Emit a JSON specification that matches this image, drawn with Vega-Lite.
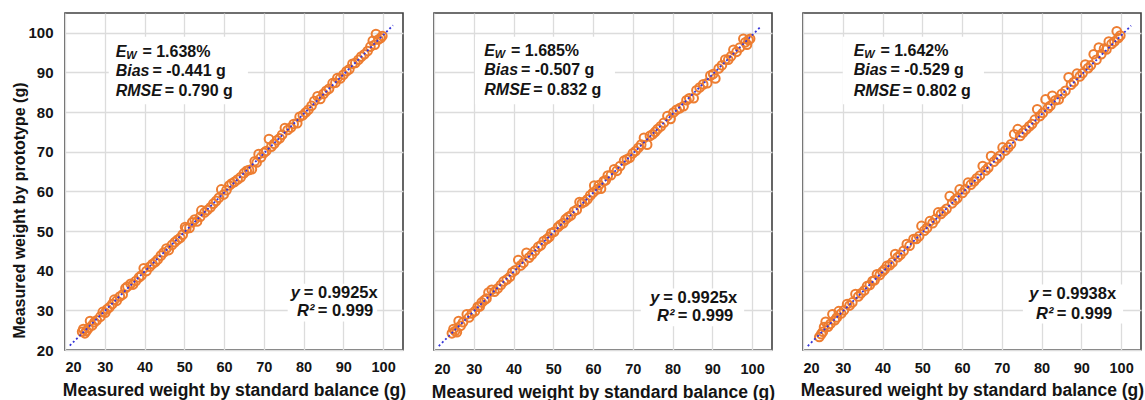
{
"$schema": "https://vega.github.io/schema/vega-lite/v6.json",
"background": "white",
"padding": {"left": 10, "top": 12, "right": 0, "bottom": 0},
"spacing": 31,
"bounds": "flush",
"config": {
 "font": "Liberation Sans",
 "view": {"stroke": "#404040", "strokeWidth": 1.6},
 "axis": {"grid": true, "gridColor": "#dcdcdc", "gridWidth": 1.3, "domain": false, "ticks": false, "labelFont": "Liberation Sans", "titleFont": "Liberation Sans", "labelFontWeight": "bold", "titleFontWeight": "bold", "labelColor": "#141414", "titleColor": "#141414"},
 "text": {"font": "Liberation Sans", "fontWeight": "bold", "fontSize": 16, "color": "#141414", "align": "left", "baseline": "middle"}
},
"datasets": {
 "p1": [
 {"x":24.3,"y":24.6},{"x":24.6,"y":25.3},{"x":25.0,"y":24.2},{"x":25.4,"y":24.8},{"x":25.9,"y":25.5},{"x":26.3,"y":27.3},{"x":26.8,"y":26.2},{"x":27.4,"y":27.0},{"x":28.0,"y":27.5},{"x":28.9,"y":28.4},{"x":29.5,"y":29.6},{"x":30.1,"y":29.4},{"x":30.6,"y":30.3},{"x":31.2,"y":30.8},{"x":31.9,"y":31.6},{"x":32.4,"y":32.7},{"x":33.0,"y":32.4},{"x":33.8,"y":33.5},{"x":34.5,"y":34.0},{"x":35.2,"y":35.6},{"x":35.7,"y":36.0},{"x":36.5,"y":36.7},{"x":37.1,"y":36.5},{"x":37.8,"y":37.4},{"x":38.6,"y":38.3},{"x":39.2,"y":38.8},{"x":39.8,"y":40.6},{"x":40.5,"y":39.9},{"x":41.3,"y":41.0},{"x":42.0,"y":41.7},{"x":42.7,"y":42.2},{"x":43.3,"y":42.8},{"x":44.1,"y":43.8},{"x":44.8,"y":44.6},{"x":45.5,"y":45.6},{"x":46.1,"y":45.2},{"x":46.9,"y":46.5},{"x":47.6,"y":47.2},{"x":48.3,"y":47.8},{"x":49.0,"y":48.3},{"x":49.6,"y":49.1},{"x":50.2,"y":51.0},{"x":50.5,"y":50.6},{"x":51.3,"y":50.8},{"x":52.0,"y":52.2},{"x":52.6,"y":52.9},{"x":53.2,"y":52.4},{"x":54.0,"y":53.6},{"x":54.3,"y":55.2},{"x":55.1,"y":54.7},{"x":55.8,"y":55.3},{"x":56.6,"y":56.0},{"x":57.3,"y":56.9},{"x":58.0,"y":57.6},{"x":58.7,"y":58.4},{"x":59.3,"y":60.5},{"x":59.9,"y":59.2},{"x":60.6,"y":60.3},{"x":61.3,"y":61.5},{"x":61.9,"y":62.0},{"x":62.6,"y":62.4},{"x":63.4,"y":63.0},{"x":64.2,"y":63.6},{"x":65.0,"y":64.6},{"x":65.7,"y":65.2},{"x":66.3,"y":65.4},{"x":67.0,"y":65.6},{"x":67.7,"y":67.6},{"x":68.2,"y":67.3},{"x":68.7,"y":69.4},{"x":69.3,"y":68.6},{"x":70.0,"y":69.7},{"x":70.6,"y":70.2},{"x":71.3,"y":73.2},{"x":71.9,"y":71.3},{"x":72.6,"y":72.0},{"x":73.3,"y":72.9},{"x":74.0,"y":73.4},{"x":74.6,"y":74.3},{"x":75.3,"y":76.0},{"x":76.0,"y":75.5},{"x":76.8,"y":76.1},{"x":77.5,"y":77.0},{"x":78.4,"y":77.2},{"x":79.0,"y":78.8},{"x":79.8,"y":79.2},{"x":80.5,"y":79.9},{"x":81.2,"y":80.6},{"x":82.0,"y":81.6},{"x":82.7,"y":82.8},{"x":83.5,"y":84.0},{"x":84.2,"y":83.3},{"x":85.0,"y":84.6},{"x":85.7,"y":85.4},{"x":86.4,"y":85.9},{"x":87.3,"y":87.3},{"x":88.0,"y":87.4},{"x":88.5,"y":88.6},{"x":89.2,"y":88.5},{"x":90.0,"y":89.4},{"x":90.8,"y":90.3},{"x":91.5,"y":90.8},{"x":92.3,"y":92.2},{"x":93.0,"y":92.4},{"x":93.8,"y":93.2},{"x":94.5,"y":94.0},{"x":95.3,"y":94.6},{"x":96.1,"y":95.4},{"x":96.8,"y":96.5},{"x":97.4,"y":98.0},{"x":97.9,"y":97.0},{"x":98.2,"y":99.7},{"x":98.8,"y":98.3},{"x":99.4,"y":98.7},{"x":99.8,"y":99.2}
 ],
 "p2": [
 {"x":24.5,"y":24.2},{"x":24.9,"y":25.3},{"x":25.3,"y":24.8},{"x":25.75,"y":24.5},{"x":26.2,"y":27.3},{"x":26.7,"y":26.1},{"x":27.3,"y":27.0},{"x":28.25,"y":29.0},{"x":28.8,"y":28.2},{"x":29.5,"y":29.2},{"x":30.3,"y":29.8},{"x":31.0,"y":30.9},{"x":31.5,"y":31.0},{"x":32.0,"y":32.0},{"x":32.7,"y":32.6},{"x":33.2,"y":33.0},{"x":33.7,"y":34.5},{"x":34.5,"y":35.2},{"x":35.2,"y":34.7},{"x":36.0,"y":35.5},{"x":36.8,"y":36.4},{"x":37.5,"y":37.3},{"x":38.3,"y":37.8},{"x":39.1,"y":38.5},{"x":39.7,"y":39.6},{"x":40.4,"y":40.1},{"x":41.2,"y":42.7},{"x":41.8,"y":41.3},{"x":42.5,"y":42.0},{"x":43.25,"y":44.5},{"x":43.9,"y":43.3},{"x":44.6,"y":44.0},{"x":45.4,"y":45.0},{"x":46.2,"y":46.0},{"x":46.9,"y":46.4},{"x":47.6,"y":47.5},{"x":48.4,"y":48.0},{"x":49.0,"y":48.5},{"x":49.5,"y":49.5},{"x":50.2,"y":49.8},{"x":51.2,"y":51.0},{"x":51.8,"y":51.6},{"x":52.5,"y":52.0},{"x":53.1,"y":53.0},{"x":53.7,"y":53.5},{"x":54.4,"y":53.9},{"x":55.2,"y":55.0},{"x":55.9,"y":55.4},{"x":56.6,"y":57.3},{"x":57.2,"y":57.0},{"x":57.9,"y":57.4},{"x":58.6,"y":58.0},{"x":59.3,"y":59.0},{"x":60.0,"y":59.7},{"x":60.3,"y":61.5},{"x":61.0,"y":60.5},{"x":61.5,"y":61.6},{"x":62.0,"y":60.7},{"x":62.7,"y":62.6},{"x":63.2,"y":62.8},{"x":63.7,"y":64.0},{"x":64.5,"y":64.1},{"x":65.3,"y":65.6},{"x":66.0,"y":65.2},{"x":66.8,"y":66.4},{"x":67.8,"y":67.75},{"x":68.5,"y":68.1},{"x":69.2,"y":68.5},{"x":70.0,"y":69.6},{"x":70.7,"y":70.2},{"x":71.4,"y":71.0},{"x":72.1,"y":71.8},{"x":72.8,"y":73.5},{"x":73.6,"y":71.8},{"x":74.3,"y":74.0},{"x":75.0,"y":74.4},{"x":75.6,"y":75.0},{"x":76.2,"y":75.7},{"x":77.0,"y":76.4},{"x":77.8,"y":77.3},{"x":78.7,"y":79.0},{"x":79.5,"y":78.3},{"x":80.2,"y":79.9},{"x":81.0,"y":80.6},{"x":81.8,"y":81.0},{"x":82.75,"y":81.5},{"x":83.5,"y":83.0},{"x":84.2,"y":83.5},{"x":85.3,"y":83.5},{"x":86.0,"y":85.5},{"x":86.8,"y":86.2},{"x":87.7,"y":87.0},{"x":88.7,"y":87.3},{"x":89.5,"y":89.2},{"x":90.2,"y":89.6},{"x":90.75,"y":88.5},{"x":91.6,"y":91.0},{"x":92.4,"y":91.8},{"x":93.25,"y":93.25},{"x":94.0,"y":93.2},{"x":94.7,"y":94.1},{"x":95.3,"y":95.7},{"x":96.1,"y":95.2},{"x":96.9,"y":96.3},{"x":97.8,"y":98.5},{"x":98.3,"y":97.6},{"x":98.7,"y":97.0},{"x":99.1,"y":98.2},{"x":99.5,"y":98.5}
 ],
 "p3": [
 {"x":24.1,"y":23.3},{"x":24.6,"y":24.0},{"x":25.0,"y":24.6},{"x":25.3,"y":25.8},{"x":25.7,"y":27.1},{"x":26.3,"y":25.9},{"x":26.9,"y":26.6},{"x":27.4,"y":29.0},{"x":28.0,"y":27.5},{"x":28.5,"y":28.2},{"x":29.0,"y":29.8},{"x":29.6,"y":29.2},{"x":30.3,"y":30.0},{"x":31.1,"y":31.6},{"x":31.7,"y":31.2},{"x":32.4,"y":32.0},{"x":33.2,"y":34.1},{"x":33.9,"y":33.5},{"x":34.6,"y":34.3},{"x":35.4,"y":35.0},{"x":36.1,"y":36.1},{"x":36.8,"y":36.4},{"x":37.5,"y":37.4},{"x":38.0,"y":37.6},{"x":38.6,"y":39.1},{"x":39.3,"y":38.9},{"x":40.0,"y":39.8},{"x":40.5,"y":40.3},{"x":41.1,"y":41.2},{"x":41.8,"y":41.4},{"x":42.5,"y":42.1},{"x":43.2,"y":44.2},{"x":43.8,"y":43.4},{"x":44.5,"y":44.0},{"x":45.3,"y":45.0},{"x":46.1,"y":46.7},{"x":46.8,"y":46.3},{"x":47.8,"y":48.0},{"x":48.5,"y":48.0},{"x":49.2,"y":48.7},{"x":49.8,"y":51.3},{"x":50.5,"y":50.1},{"x":51.2,"y":50.8},{"x":51.9,"y":52.5},{"x":52.6,"y":52.0},{"x":53.3,"y":53.0},{"x":54.0,"y":54.7},{"x":54.7,"y":54.3},{"x":55.4,"y":55.0},{"x":56.1,"y":55.6},{"x":56.9,"y":58.8},{"x":57.5,"y":57.0},{"x":58.2,"y":57.8},{"x":58.8,"y":58.3},{"x":59.4,"y":60.5},{"x":60.1,"y":59.6},{"x":60.8,"y":60.5},{"x":61.5,"y":62.2},{"x":62.2,"y":61.7},{"x":63.0,"y":62.5},{"x":63.7,"y":63.3},{"x":64.5,"y":64.0},{"x":65.2,"y":66.4},{"x":65.9,"y":65.3},{"x":66.6,"y":66.0},{"x":67.3,"y":68.9},{"x":68.0,"y":67.5},{"x":68.8,"y":68.3},{"x":69.5,"y":69.0},{"x":70.2,"y":71.1},{"x":70.9,"y":70.3},{"x":71.6,"y":71.1},{"x":72.3,"y":71.9},{"x":73.1,"y":74.4},{"x":74.0,"y":75.7},{"x":74.6,"y":74.0},{"x":75.3,"y":74.8},{"x":76.1,"y":75.6},{"x":76.9,"y":76.4},{"x":77.6,"y":77.0},{"x":78.3,"y":78.1},{"x":78.9,"y":80.7},{"x":79.6,"y":79.0},{"x":80.3,"y":79.8},{"x":81.0,"y":83.2},{"x":81.6,"y":81.0},{"x":82.2,"y":81.6},{"x":82.7,"y":84.1},{"x":83.5,"y":83.0},{"x":84.3,"y":83.2},{"x":85.1,"y":84.6},{"x":86.0,"y":85.4},{"x":86.8,"y":88.8},{"x":87.4,"y":86.9},{"x":88.1,"y":87.6},{"x":88.9,"y":89.7},{"x":89.6,"y":89.0},{"x":90.3,"y":89.8},{"x":91.0,"y":92.0},{"x":91.7,"y":91.1},{"x":92.4,"y":91.8},{"x":93.1,"y":94.6},{"x":93.8,"y":93.2},{"x":94.4,"y":96.3},{"x":95.0,"y":94.6},{"x":95.7,"y":96.0},{"x":96.3,"y":95.8},{"x":96.9,"y":97.8},{"x":97.6,"y":97.2},{"x":98.3,"y":97.8},{"x":98.9,"y":100.4},{"x":99.3,"y":98.7},{"x":99.8,"y":99.3}
 ]
},
"hconcat": [
 {
  "width": 338, "height": 337,
  "layer": [
   {"data": {"name": "p1"}, "mark": {"type": "point", "shape": "circle", "filled": false, "color": "#ED7D31", "strokeWidth": 2, "size": 75, "opacity": 0},
    "encoding": {
     "x": {"field": "x", "type": "quantitative", "scale": {"domain": [20, 105], "nice": false, "zero": false}, "axis": {"values": [20,30,40,50,60,70,80,90,100], "title": "Measured weight by standard balance (g)", "titleFontSize": 17.5, "labelFontSize": 14.5, "labelPadding": 10, "titlePadding": 8}},
     "y": {"field": "y", "type": "quantitative", "scale": {"domain": [20, 105], "nice": false, "zero": false}, "axis": {"values": [20,30,40,50,60,70,80,90,100], "title": "Measured weight by prototype (g)", "titleFontSize": 16, "labelFontSize": 15, "labelPadding": 12, "titleX": -38, "titleY": 197}}
    }},
   {"data": {"values": [{}]}, "mark": {"type": "rect", "fill": "white"}, "encoding": {"x": {"datum": 31}, "x2": {"datum": 66}, "y": {"datum": 82}, "y2": {"datum": 99}}},
   {"data": {"values": [{}]}, "mark": {"type": "rect", "fill": "white"}, "encoding": {"x": {"datum": 76}, "x2": {"datum": 98.5}, "y": {"datum": 27.2}, "y2": {"datum": 36.7}}},
   {"data": {"name": "p1"}, "mark": {"type": "point", "shape": "circle", "filled": false, "color": "#ED7D31", "strokeWidth": 2, "size": 75, "opacity": 1},
    "encoding": {"x": {"field": "x", "type": "quantitative"}, "y": {"field": "y", "type": "quantitative"}}},
   {"data": {"values": [{}]}, "mark": {"type": "rule", "color": "#3535d8", "strokeWidth": 1.8, "strokeDash": [2, 2.5]}, "encoding": {"x": {"datum": 21.2}, "y": {"datum": 21.1}, "x2": {"datum": 102.5}, "y2": {"datum": 101.9}}},
   {"data": {"values": [{}]}, "mark": {"type": "text", "text": "E", "fontStyle": "italic"}, "encoding": {"x": {"datum": 32.75}, "y": {"datum": 95.2}}},
   {"data": {"values": [{}]}, "mark": {"type": "text", "text": "W", "fontStyle": "italic", "fontSize": 11, "dx": 10.5, "dy": 4}, "encoding": {"x": {"datum": 32.75}, "y": {"datum": 95.2}}},
   {"data": {"values": [{}]}, "mark": {"type": "text", "text": "= 1.638%", "dx": 26.7}, "encoding": {"x": {"datum": 32.75}, "y": {"datum": 95.2}}},
   {"data": {"values": [{}]}, "mark": {"type": "text", "text": "Bias", "fontStyle": "italic"}, "encoding": {"x": {"datum": 32.75}, "y": {"datum": 90.45}}},
   {"data": {"values": [{}]}, "mark": {"type": "text", "text": "= -0.441 g", "dx": 36.7}, "encoding": {"x": {"datum": 32.75}, "y": {"datum": 90.45}}},
   {"data": {"values": [{}]}, "mark": {"type": "text", "text": "RMSE", "fontStyle": "italic"}, "encoding": {"x": {"datum": 32.75}, "y": {"datum": 85.4}}},
   {"data": {"values": [{}]}, "mark": {"type": "text", "text": "= 0.790 g", "dx": 49}, "encoding": {"x": {"datum": 32.75}, "y": {"datum": 85.4}}},
   {"data": {"values": [{}]}, "mark": {"type": "text", "text": "y", "fontStyle": "italic", "fontSize": 16.5}, "encoding": {"x": {"datum": 76.8}, "y": {"datum": 34.5}}},
   {"data": {"values": [{}]}, "mark": {"type": "text", "text": "= 0.9925x", "fontSize": 16.5, "dx": 13}, "encoding": {"x": {"datum": 76.8}, "y": {"datum": 34.5}}},
   {"data": {"values": [{}]}, "mark": {"type": "text", "text": "R²", "fontStyle": "italic", "fontSize": 16.5}, "encoding": {"x": {"datum": 78.35}, "y": {"datum": 29.85}}},
   {"data": {"values": [{}]}, "mark": {"type": "text", "text": "= 0.999", "fontSize": 16.5, "dx": 20.7}, "encoding": {"x": {"datum": 78.35}, "y": {"datum": 29.85}}}
  ]
 },
 {
  "width": 338, "height": 337,
  "layer": [
   {"data": {"name": "p2"}, "mark": {"type": "point", "shape": "circle", "filled": false, "color": "#ED7D31", "strokeWidth": 2, "size": 75, "opacity": 0},
    "encoding": {
     "x": {"field": "x", "type": "quantitative", "scale": {"domain": [20, 105], "nice": false, "zero": false}, "axis": {"values": [20,30,40,50,60,70,80,90,100], "title": "Measured weight by standard balance (g)", "titleFontSize": 17.5, "labelFontSize": 14.5, "labelPadding": 12, "titlePadding": 8}},
     "y": {"field": "y", "type": "quantitative", "scale": {"domain": [20, 105], "nice": false, "zero": false}, "axis": {"values": [20,30,40,50,60,70,80,90,100], "labels": false, "title": null}}
    }},
   {"data": {"values": [{}]}, "mark": {"type": "rect", "fill": "white"}, "encoding": {"x": {"datum": 30.3}, "x2": {"datum": 65.5}, "y": {"datum": 82}, "y2": {"datum": 99}}},
   {"data": {"values": [{}]}, "mark": {"type": "rect", "fill": "white"}, "encoding": {"x": {"datum": 72}, "x2": {"datum": 98}, "y": {"datum": 26}, "y2": {"datum": 35.5}}},
   {"data": {"name": "p2"}, "mark": {"type": "point", "shape": "circle", "filled": false, "color": "#ED7D31", "strokeWidth": 2, "size": 75, "opacity": 1},
    "encoding": {"x": {"field": "x", "type": "quantitative"}, "y": {"field": "y", "type": "quantitative"}}},
   {"data": {"values": [{}]}, "mark": {"type": "rule", "color": "#3535d8", "strokeWidth": 1.8, "strokeDash": [2, 2.5]}, "encoding": {"x": {"datum": 21.2}, "y": {"datum": 21.0}, "x2": {"datum": 102.3}, "y2": {"datum": 101.7}}},
   {"data": {"values": [{}]}, "mark": {"type": "text", "text": "E", "fontStyle": "italic"}, "encoding": {"x": {"datum": 32.65}, "y": {"datum": 95.3}}},
   {"data": {"values": [{}]}, "mark": {"type": "text", "text": "W", "fontStyle": "italic", "fontSize": 11, "dx": 10.5, "dy": 4}, "encoding": {"x": {"datum": 32.65}, "y": {"datum": 95.3}}},
   {"data": {"values": [{}]}, "mark": {"type": "text", "text": "= 1.685%", "dx": 26.7}, "encoding": {"x": {"datum": 32.65}, "y": {"datum": 95.3}}},
   {"data": {"values": [{}]}, "mark": {"type": "text", "text": "Bias", "fontStyle": "italic"}, "encoding": {"x": {"datum": 32.65}, "y": {"datum": 90.5}}},
   {"data": {"values": [{}]}, "mark": {"type": "text", "text": "= -0.507 g", "dx": 36.7}, "encoding": {"x": {"datum": 32.65}, "y": {"datum": 90.5}}},
   {"data": {"values": [{}]}, "mark": {"type": "text", "text": "RMSE", "fontStyle": "italic"}, "encoding": {"x": {"datum": 32.65}, "y": {"datum": 85.5}}},
   {"data": {"values": [{}]}, "mark": {"type": "text", "text": "= 0.832 g", "dx": 49}, "encoding": {"x": {"datum": 32.65}, "y": {"datum": 85.5}}},
   {"data": {"values": [{}]}, "mark": {"type": "text", "text": "y", "fontStyle": "italic", "fontSize": 16.5}, "encoding": {"x": {"datum": 74.4}, "y": {"datum": 33.2}}},
   {"data": {"values": [{}]}, "mark": {"type": "text", "text": "= 0.9925x", "fontSize": 16.5, "dx": 13}, "encoding": {"x": {"datum": 74.4}, "y": {"datum": 33.2}}},
   {"data": {"values": [{}]}, "mark": {"type": "text", "text": "R²", "fontStyle": "italic", "fontSize": 16.5}, "encoding": {"x": {"datum": 76.1}, "y": {"datum": 28.6}}},
   {"data": {"values": [{}]}, "mark": {"type": "text", "text": "= 0.999", "fontSize": 16.5, "dx": 20.7}, "encoding": {"x": {"datum": 76.1}, "y": {"datum": 28.6}}}
  ]
 },
 {
  "width": 338, "height": 337,
  "layer": [
   {"data": {"name": "p3"}, "mark": {"type": "point", "shape": "circle", "filled": false, "color": "#ED7D31", "strokeWidth": 2, "size": 75, "opacity": 0},
    "encoding": {
     "x": {"field": "x", "type": "quantitative", "scale": {"domain": [20, 105], "nice": false, "zero": false}, "axis": {"values": [20,30,40,50,60,70,80,90,100], "title": "Measured weight by standard balance (g)", "titleFontSize": 17.5, "labelFontSize": 14.5, "labelPadding": 11, "titlePadding": 7}},
     "y": {"field": "y", "type": "quantitative", "scale": {"domain": [20, 105], "nice": false, "zero": false}, "axis": {"values": [20,30,40,50,60,70,80,90,100], "labels": false, "title": null}}
    }},
   {"data": {"values": [{}]}, "mark": {"type": "rect", "fill": "white"}, "encoding": {"x": {"datum": 30}, "x2": {"datum": 65.5}, "y": {"datum": 82}, "y2": {"datum": 99}}},
   {"data": {"values": [{}]}, "mark": {"type": "rect", "fill": "white"}, "encoding": {"x": {"datum": 75.3}, "x2": {"datum": 100.5}, "y": {"datum": 26.7}, "y2": {"datum": 36.5}}},
   {"data": {"name": "p3"}, "mark": {"type": "point", "shape": "circle", "filled": false, "color": "#ED7D31", "strokeWidth": 2, "size": 75, "opacity": 1},
    "encoding": {"x": {"field": "x", "type": "quantitative"}, "y": {"field": "y", "type": "quantitative"}}},
   {"data": {"values": [{}]}, "mark": {"type": "rule", "color": "#3535d8", "strokeWidth": 1.8, "strokeDash": [2, 2.5]}, "encoding": {"x": {"datum": 21.2}, "y": {"datum": 21.0}, "x2": {"datum": 102.5}, "y2": {"datum": 101.8}}},
   {"data": {"values": [{}]}, "mark": {"type": "text", "text": "E", "fontStyle": "italic"}, "encoding": {"x": {"datum": 32.75}, "y": {"datum": 95.3}}},
   {"data": {"values": [{}]}, "mark": {"type": "text", "text": "W", "fontStyle": "italic", "fontSize": 11, "dx": 10.5, "dy": 4}, "encoding": {"x": {"datum": 32.75}, "y": {"datum": 95.3}}},
   {"data": {"values": [{}]}, "mark": {"type": "text", "text": "= 1.642%", "dx": 26.7}, "encoding": {"x": {"datum": 32.75}, "y": {"datum": 95.3}}},
   {"data": {"values": [{}]}, "mark": {"type": "text", "text": "Bias", "fontStyle": "italic"}, "encoding": {"x": {"datum": 32.75}, "y": {"datum": 90.5}}},
   {"data": {"values": [{}]}, "mark": {"type": "text", "text": "= -0.529 g", "dx": 36.7}, "encoding": {"x": {"datum": 32.75}, "y": {"datum": 90.5}}},
   {"data": {"values": [{}]}, "mark": {"type": "text", "text": "RMSE", "fontStyle": "italic"}, "encoding": {"x": {"datum": 32.75}, "y": {"datum": 85.4}}},
   {"data": {"values": [{}]}, "mark": {"type": "text", "text": "= 0.802 g", "dx": 49}, "encoding": {"x": {"datum": 32.75}, "y": {"datum": 85.4}}},
   {"data": {"values": [{}]}, "mark": {"type": "text", "text": "y", "fontStyle": "italic", "fontSize": 16.5}, "encoding": {"x": {"datum": 76.9}, "y": {"datum": 34.05}}},
   {"data": {"values": [{}]}, "mark": {"type": "text", "text": "= 0.9938x", "fontSize": 16.5, "dx": 13}, "encoding": {"x": {"datum": 76.9}, "y": {"datum": 34.05}}},
   {"data": {"values": [{}]}, "mark": {"type": "text", "text": "R²", "fontStyle": "italic", "fontSize": 16.5}, "encoding": {"x": {"datum": 78.6}, "y": {"datum": 29.0}}},
   {"data": {"values": [{}]}, "mark": {"type": "text", "text": "= 0.999", "fontSize": 16.5, "dx": 20.7}, "encoding": {"x": {"datum": 78.6}, "y": {"datum": 29.0}}}
  ]
 }
]
}
